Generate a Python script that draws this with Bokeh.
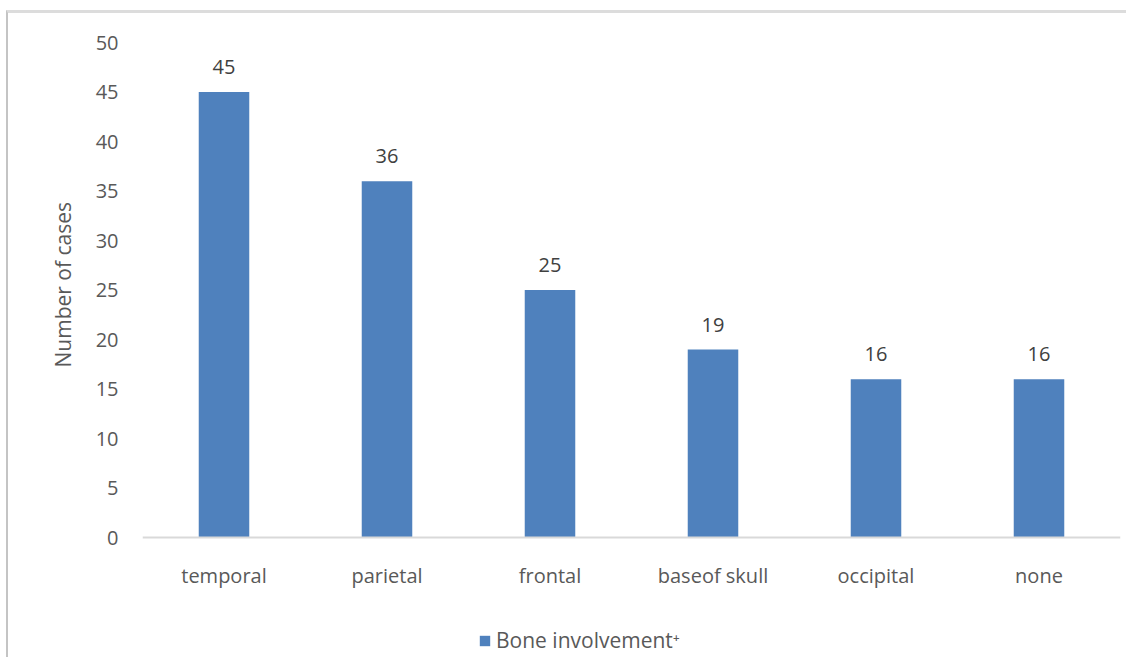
from bokeh.plotting import figure
from bokeh.models import ColumnDataSource, LabelSet, Legend, LegendItem, Title
from bokeh.core.properties import value
from bokeh.embed import file_html
from bokeh.resources import INLINE

categories = ["temporal", "parietal", "frontal", "baseof skull", "occipital", "none"]
cases = [45, 36, 25, 19, 16, 16]
series_name = "Bone involvement\u207a"
y_title = "Number of cases"
y_ticks = [0, 5, 10, 15, 20, 25, 30, 35, 40, 45, 50]

FONT = "Open Sans"
src = ColumnDataSource(data=dict(cat=categories, val=cases, lbl=[str(v) for v in cases]))

p = figure(x_range=categories, y_range=(-12, 50), width=1120, height=647,
           output_backend="svg", toolbar_location=None,
           min_border_left=134, min_border_right=8, min_border_top=29, min_border_bottom=4)
p.styles = {"border-left": "2px solid #c4c4c4", "border-top": "3px solid #dcdcdc",
            "margin-top": "10px", "margin-left": "6px"}
p.outline_line_color = None
p.xgrid.grid_line_color = None
p.ygrid.grid_line_color = None
p.background_fill_color = "white"
p.border_fill_color = "white"

r = p.vbar(x="cat", top="val", width=0.31, source=src, fill_color="#4F81BD", line_color=None)

labels = LabelSet(x="cat", y="val", text="lbl", source=src, text_align="center",
                  text_baseline="bottom", y_offset=18, text_font=value(FONT),
                  text_font_size="20px", text_color="#404040")
p.add_layout(labels)

p.yaxis.ticker = y_ticks
p.yaxis.axis_line_color = None
p.yaxis.major_tick_line_color = None
p.yaxis.minor_tick_line_color = None
p.yaxis.major_label_text_font = FONT
p.yaxis.major_label_text_font_size = "20px"
p.yaxis.major_label_text_color = "#595959"
p.yaxis.major_label_standoff = 18

ytitle = Title(text=y_title, align="left", offset=289, standoff=32,
               text_font=FONT, text_font_size="21px", text_font_style="normal",
               text_color="#595959")
p.add_layout(ytitle, "left")

p.xaxis.fixed_location = 0
p.xaxis.axis_line_color = "#d9d9d9"
p.xaxis.axis_line_width = 2
p.xaxis.major_tick_line_color = None
p.xaxis.minor_tick_line_color = None
p.xaxis.major_label_text_font = FONT
p.xaxis.major_label_text_font_size = "20px"
p.xaxis.major_label_text_color = "#595959"
p.xaxis.major_label_standoff = 18

legend = Legend(items=[LegendItem(label=series_name, renderers=[r])],
                location=(336, 2), glyph_width=13, glyph_height=13, label_standoff=5,
                padding=0, margin=0, border_line_color=None, background_fill_alpha=0,
                label_text_font=FONT, label_text_font_size="21px", label_text_color="#595959")
p.add_layout(legend, "center")

open("out.html", "w").write(file_html(p, INLINE))
